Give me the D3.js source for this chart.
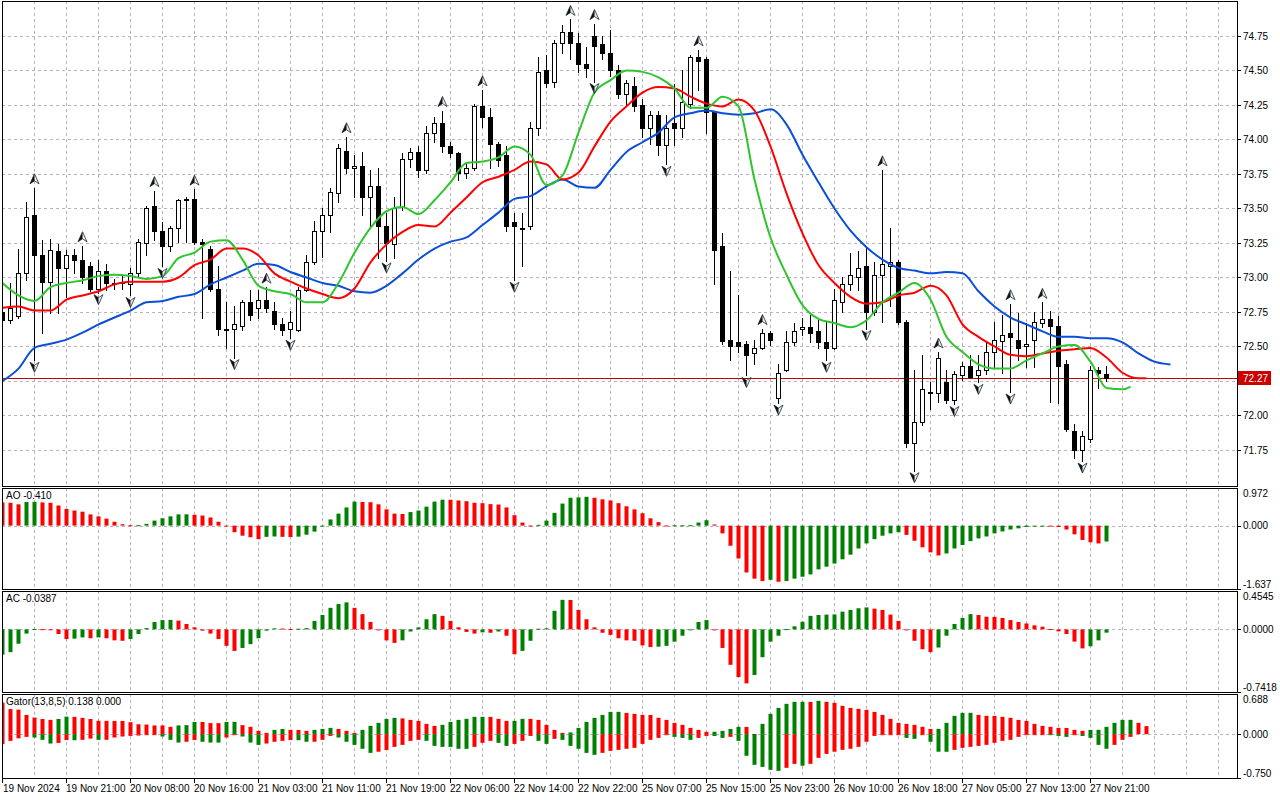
<!DOCTYPE html>
<html>
<head>
<meta charset="utf-8">
<script src="https://cdn.jsdelivr.net/npm/d3@7"></script>
<style>
  body { margin: 0; background: #fff; }
  svg { display: block; }
  text { font-family: "Liberation Sans", Arial, sans-serif; font-size: 10px; fill: #000; }
</style>
</head>
<body>
<svg id="chart"></svg>
<script>
// ------------------------------------------------------------
// H1 candles with Alligator, Fractals, AO, AC and Gator panels
// ------------------------------------------------------------

// Candle data, one value per hourly bar (index 0 = left edge).
const opens = [
  72.75, 72.69, 72.72, 73.03, 73.45, 73.16, 72.97, 73.19, 73.07, 73.16,
  73.13, 73.08, 72.92, 73.05, 72.96, 72.96, 72.95, 73.03, 73.25, 73.52,
  73.34, 73.23, 73.36, 73.56, 73.57, 73.26, 73.21, 72.92, 72.62, 72.63,
  72.65, 72.82, 72.78, 72.84, 72.76, 72.66, 72.63, 72.62, 72.91, 73.11,
  73.34, 73.45, 73.61, 73.92, 73.79, 73.81, 73.58, 73.66, 73.37, 73.24,
  73.51, 73.86, 73.91, 73.78, 74.05, 74.12, 73.95, 73.90, 73.76, 73.79,
  74.24, 74.16, 73.97, 73.89, 73.40, 73.36, 73.37, 74.08, 74.50, 74.42,
  74.70, 74.78, 74.70, 74.55, 74.75, 74.69, 74.63, 74.50, 74.33, 74.39,
  74.25, 74.08, 74.18, 73.96, 74.12, 74.08, 74.26, 74.60, 74.58, 74.20,
  73.23, 72.55, 72.53, 72.52, 72.45, 72.49, 72.60, 72.13, 72.33, 72.53,
  72.63, 72.64, 72.61, 72.53, 72.49, 72.82, 72.95, 73.00, 73.08, 72.75,
  73.02, 73.08, 73.11, 72.68, 71.80, 71.95, 72.16, 72.16, 72.24, 72.11,
  72.29, 72.36, 72.29, 72.33, 72.46, 72.54, 72.60, 72.55, 72.50, 72.55,
  72.67, 72.70, 72.65, 72.37, 71.89, 71.75, 71.83, 72.33, 72.30
];
const highs = [
  72.80, 72.96, 73.21, 73.55, 73.65, 73.27, 73.28, 73.24, 73.20, 73.21,
  73.23, 73.11, 73.13, 73.10, 72.99, 73.01, 73.07, 73.28, 73.52, 73.63,
  73.40, 73.37, 73.57, 73.58, 73.64, 73.28, 73.23, 73.08, 72.82, 72.79,
  72.84, 72.91, 72.91, 72.93, 72.82, 72.71, 72.76, 72.93, 73.16, 73.41,
  73.50, 73.65, 73.97, 74.02, 73.89, 73.91, 73.78, 73.79, 73.47, 73.58,
  73.90, 73.94, 73.95, 74.10, 74.16, 74.21, 73.98, 73.91, 73.83, 74.26,
  74.36, 74.23, 73.98, 73.95, 73.47, 73.47, 74.13, 74.60, 74.61, 74.72,
  74.83, 74.87, 74.77, 74.67, 74.84, 74.75, 74.79, 74.54, 74.43, 74.45,
  74.29, 74.21, 74.21, 74.18, 74.40, 74.50, 74.61, 74.65, 74.60, 74.21,
  73.32, 73.05, 72.87, 72.54, 72.55, 72.63, 72.61, 72.37, 72.61, 72.67,
  72.71, 72.73, 72.69, 72.68, 72.92, 73.00, 73.18, 73.19, 73.22, 73.11,
  73.78, 73.36, 73.13, 72.69, 72.33, 72.44, 72.24, 72.46, 72.33, 72.32,
  72.39, 72.44, 72.44, 72.53, 72.68, 72.73, 72.81, 72.74, 72.67, 72.75,
  72.82, 72.76, 72.72, 72.40, 71.94, 71.89, 72.36, 72.35, 72.36
];
const lows = [
  72.67, 72.67, 72.71, 72.98, 72.40, 72.60, 72.74, 72.74, 72.86, 73.03,
  72.96, 72.90, 72.89, 72.91, 72.92, 72.92, 72.87, 73.01, 73.16, 73.27,
  73.08, 73.19, 73.26, 73.26, 73.24, 72.71, 72.90, 72.58, 72.49, 72.42,
  72.62, 72.69, 72.71, 72.75, 72.63, 72.58, 72.56, 72.61, 72.90, 73.10,
  73.15, 73.33, 73.55, 73.76, 73.58, 73.45, 73.37, 73.14, 73.12, 73.14,
  73.49, 73.80, 73.73, 73.76, 73.98, 73.91, 73.87, 73.71, 73.72, 73.78,
  74.09, 73.79, 73.81, 73.34, 72.98, 73.08, 73.35, 74.03, 74.38, 74.38,
  74.63, 74.58, 74.49, 74.45, 74.42, 74.58, 74.46, 74.30, 74.25, 74.21,
  74.02, 73.97, 73.89, 73.82, 73.96, 74.02, 74.23, 74.36, 74.05, 72.95,
  72.52, 72.40, 72.46, 72.29, 72.37, 72.48, 72.51, 72.09, 72.32, 72.51,
  72.58, 72.53, 72.49, 72.40, 72.48, 72.75, 72.91, 72.91, 72.63, 72.73,
  72.68, 72.79, 72.66, 71.77, 71.60, 71.93, 72.05, 72.10, 72.09, 72.08,
  72.26, 72.27, 72.24, 72.30, 72.35, 72.31, 72.17, 72.40, 72.35, 72.35,
  72.64, 72.10, 72.09, 71.89, 71.69, 71.67, 71.81, 72.20, 72.25
];
const closes = [
  72.69, 72.78, 73.03, 73.44, 73.16, 72.97, 73.20, 73.07, 73.16, 73.13,
  73.00, 72.92, 73.05, 72.96, 72.95, 72.97, 73.03, 73.26, 73.50, 73.34,
  73.23, 73.36, 73.56, 73.57, 73.26, 73.24, 72.92, 72.63, 72.63, 72.66,
  72.82, 72.73, 72.84, 72.78, 72.66, 72.62, 72.68, 72.91, 73.11, 73.34,
  73.45, 73.62, 73.94, 73.79, 73.81, 73.58, 73.66, 73.37, 73.25, 73.50,
  73.86, 73.91, 73.78, 74.05, 74.12, 73.95, 73.90, 73.76, 73.79, 74.24,
  74.16, 73.97, 73.85, 73.37, 73.37, 73.35, 74.08, 74.49, 74.41, 74.70,
  74.78, 74.70, 74.55, 74.52, 74.68, 74.63, 74.50, 74.33, 74.41, 74.24,
  74.08, 74.18, 73.96, 74.08, 74.08, 74.27, 74.60, 74.57, 74.20, 73.20,
  72.54, 72.50, 72.50, 72.44, 72.49, 72.60, 72.55, 72.31, 72.53, 72.61,
  72.64, 72.60, 72.53, 72.49, 72.84, 72.95, 73.02, 73.07, 72.75, 73.02,
  73.10, 73.11, 72.68, 71.80, 71.95, 72.19, 72.17, 72.42, 72.11, 72.30,
  72.36, 72.28, 72.33, 72.46, 72.55, 72.58, 72.57, 72.49, 72.52, 72.68,
  72.70, 72.65, 72.36, 71.90, 71.75, 71.85, 72.33, 72.31, 72.27
];

// Bars that carry a fractal arrow.
const fractalUp = [4, 10, 19, 24, 33, 43, 55, 60, 71, 74, 87, 95, 110, 117, 126, 130];
const fractalDown = [4, 12, 16, 20, 29, 36, 48, 64, 74, 83, 93, 97, 103, 108, 114, 119, 122, 126, 135];

// Alligator lines, read every second bar (they run past the last candle).
const jaw = [
  72.25, 72.34, 72.49, 72.52, 72.55, 72.60, 72.66, 72.71, 72.76, 72.82,
  72.83, 72.86, 72.88, 72.95, 73.00, 73.05, 73.10, 73.09, 73.04, 73.00,
  72.96, 72.94, 72.90, 72.89, 72.94, 73.03, 73.13, 73.21, 73.26, 73.29,
  73.38, 73.47, 73.57, 73.59, 73.66, 73.71, 73.66, 73.65, 73.78, 73.91,
  73.98, 74.05, 74.16, 74.19, 74.21, 74.19, 74.18, 74.19, 74.22, 74.11,
  73.89, 73.69, 73.50, 73.34, 73.22, 73.13, 73.07, 73.05, 73.03, 73.04,
  73.03, 72.90, 72.79, 72.71, 72.66, 72.61, 72.57, 72.57, 72.56, 72.56,
  72.53, 72.45, 72.39, 72.37
];
const teeth = [
  72.78, 72.79, 72.76, 72.76, 72.84, 72.87, 72.90, 72.95, 72.97, 72.97,
  72.97, 73.00, 73.09, 73.13, 73.21, 73.21, 73.16, 73.03, 72.97, 72.92,
  72.88, 72.85, 72.92, 73.11, 73.24, 73.33, 73.38, 73.37, 73.47, 73.58,
  73.69, 73.73, 73.78, 73.84, 73.82, 73.71, 73.76, 73.95, 74.13, 74.24,
  74.34, 74.38, 74.37, 74.31, 74.26, 74.24, 74.29, 74.21, 73.95, 73.61,
  73.32, 73.09, 72.96, 72.86, 72.81, 72.82, 72.87, 72.89, 72.94, 72.87,
  72.66, 72.57, 72.50, 72.44, 72.43, 72.45, 72.47, 72.48, 72.49, 72.42,
  72.31, 72.27, 72.27
];
const lips = [
  72.96, 72.87, 72.83, 72.93, 72.96, 72.98, 73.01, 73.02, 73.01, 72.99,
  73.01, 73.14, 73.18, 73.26, 73.27, 73.13, 72.94, 72.90, 72.88, 72.82,
  72.82, 72.96, 73.18, 73.36, 73.48, 73.51, 73.46, 73.56, 73.69, 73.83,
  73.84, 73.87, 73.95, 73.89, 73.67, 73.74, 74.05, 74.34, 74.43, 74.50,
  74.49, 74.45, 74.37, 74.23, 74.23, 74.31, 74.24, 73.71, 73.29, 73.02,
  72.80, 72.70, 72.67, 72.64, 72.69, 72.82, 72.89, 72.96, 72.84, 72.57,
  72.46, 72.37, 72.34, 72.34, 72.40, 72.45, 72.50, 72.51, 72.39, 72.20,
  72.19, 72.21
];
// Bar index of each line point.
const jawBars = d3.range(0, 147, 2);
const teethBars = d3.range(0, 143, 2).concat([143]);
const lipsBars = d3.range(0, 141, 2).concat([141]);

// Awesome Oscillator, one value per bar.
const ao = [
  0.60, 0.59, 0.55, 0.61, 0.615, 0.60, 0.59, 0.52, 0.43, 0.39,
  0.36, 0.29, 0.24, 0.18, 0.10, 0.035, 0.01, 0.012, 0.045, 0.13,
  0.19, 0.24, 0.29, 0.292, 0.28, 0.26, 0.21, 0.10, -0.005, -0.17,
  -0.26, -0.30, -0.35, -0.29, -0.28, -0.29, -0.295, -0.285, -0.235, -0.155,
  0.0, 0.16, 0.31, 0.47, 0.62, 0.61, 0.605, 0.55, 0.42, 0.31,
  0.30, 0.35, 0.39, 0.49, 0.62, 0.67, 0.668, 0.65, 0.63, 0.59,
  0.58, 0.555, 0.545, 0.47, 0.27, 0.08, 0.003, 0.02, 0.13, 0.33,
  0.57, 0.72, 0.73, 0.745, 0.72, 0.68, 0.65, 0.58, 0.50, 0.42,
  0.32, 0.19, 0.09, 0.005, 0.008, 0.01, 0.012, 0.08, 0.14, 0.03,
  -0.20, -0.52, -0.85, -1.21, -1.37, -1.43, -1.40, -1.45, -1.43, -1.37,
  -1.32, -1.26, -1.13, -1.06, -0.98, -0.87, -0.75, -0.59, -0.46, -0.35,
  -0.26, -0.20, -0.17, -0.24, -0.39, -0.56, -0.69, -0.77, -0.72, -0.59,
  -0.50, -0.40, -0.33, -0.28, -0.20, -0.15, -0.10, -0.07, -0.035, -0.01,
  -0.005, -0.01, -0.035, -0.10, -0.225, -0.37, -0.43, -0.46, -0.41
];

// Accelerator Oscillator, one value per bar.
const ac = [
  -0.30, -0.27, -0.17, -0.05, 0.005, 0.003, 0.001, -0.055, -0.115, -0.11,
  -0.095, -0.105, -0.095, -0.105, -0.13, -0.135, -0.115, -0.055, 0.015, 0.088,
  0.11, 0.112, 0.104, 0.064, 0.024, -0.015, -0.05, -0.115, -0.195, -0.255,
  -0.22, -0.175, -0.105, -0.015, 0.012, 0.010, 0.005, 0.008, 0.015, 0.10,
  0.17, 0.255, 0.30, 0.32, 0.255, 0.18, 0.088, -0.005, -0.13, -0.16,
  -0.13, -0.025, 0.024, 0.12, 0.18, 0.16, 0.10, 0.025, -0.03, -0.05,
  -0.035, -0.04, -0.025, -0.075, -0.295, -0.255, -0.135, 0.008, 0.012, 0.22,
  0.35, 0.348, 0.23, 0.12, 0.024, -0.04, -0.065, -0.105, -0.13, -0.135,
  -0.19, -0.21, -0.205, -0.195, -0.145, -0.075, -0.005, 0.088, 0.11, -0.003,
  -0.22, -0.42, -0.565, -0.64, -0.54, -0.33, -0.145, -0.075, 0.004, 0.036,
  0.09, 0.16, 0.17, 0.175, 0.177, 0.21, 0.23, 0.25, 0.26, 0.245,
  0.23, 0.175, 0.10, -0.004, -0.135, -0.235, -0.27, -0.215, -0.075, 0.064,
  0.135, 0.18, 0.17, 0.15, 0.149, 0.135, 0.11, 0.088, 0.07, 0.048,
  0.032, 0.004, -0.024, -0.055, -0.145, -0.225, -0.20, -0.13, -0.0387
];

// Gator Oscillator: upper and lower histograms (they run past the last candle).
const gatorUp = [
  0.54, 0.43, 0.42, 0.33, 0.285, 0.26, 0.245, 0.26, 0.30, 0.297,
  0.28, 0.26, 0.23, 0.228, 0.227, 0.226, 0.205, 0.17, 0.165, 0.15,
  0.149, 0.126, 0.15, 0.155, 0.21, 0.209, 0.19, 0.189, 0.21, 0.211,
  0.155, 0.126, 0.057, 0.023, 0.074, 0.09, 0.074, 0.073, 0.057, 0.074,
  0.09, 0.108, 0.09, 0.057, 0.023, 0.074, 0.143, 0.194, 0.26, 0.28,
  0.27, 0.245, 0.228, 0.177, 0.143, 0.16, 0.21, 0.245, 0.263, 0.297,
  0.298, 0.296, 0.263, 0.228, 0.229, 0.263, 0.262, 0.245, 0.16, 0.074,
  0.023, 0.03, 0.108, 0.21, 0.28, 0.33, 0.382, 0.383, 0.365, 0.348,
  0.33, 0.329, 0.28, 0.245, 0.194, 0.16, 0.108, 0.074, 0.04, 0.041,
  0.057, 0.09, 0.126, 0.125, 0.003, 0.177, 0.348, 0.45, 0.52, 0.554,
  0.555, 0.553, 0.571, 0.554, 0.537, 0.485, 0.45, 0.434, 0.417, 0.382,
  0.33, 0.263, 0.194, 0.177, 0.16, 0.126, 0.09, 0.091, 0.194, 0.314,
  0.365, 0.366, 0.33, 0.314, 0.313, 0.297, 0.28, 0.245, 0.228, 0.177,
  0.143, 0.126, 0.108, 0.107, 0.074, 0.057, 0.074, 0.075, 0.126, 0.194,
  0.245, 0.246, 0.194, 0.138
];
const gatorDown = [
  -0.17, -0.114, -0.07, -0.046, -0.057, -0.097, -0.16, -0.15, -0.10, -0.103,
  -0.097, -0.075, -0.097, -0.096, -0.057, -0.04, -0.03, -0.023, -0.011, -0.005,
  -0.04, -0.097, -0.143, -0.13, -0.10, -0.13, -0.143, -0.144, -0.057, -0.01,
  -0.04, -0.143, -0.183, -0.16, -0.13, -0.114, -0.10, -0.103, -0.13, -0.129,
  -0.097, -0.03, -0.057, -0.13, -0.183, -0.25, -0.32, -0.30, -0.27, -0.217,
  -0.183, -0.114, -0.097, -0.114, -0.20, -0.217, -0.218, -0.25, -0.251, -0.217,
  -0.148, -0.114, -0.148, -0.20, -0.166, -0.114, -0.03, -0.114, -0.166, -0.08,
  -0.097, -0.20, -0.25, -0.32, -0.354, -0.32, -0.285, -0.268, -0.25, -0.234,
  -0.166, -0.097, -0.063, -0.011, -0.046, -0.063, -0.097, -0.063, -0.03, -0.031,
  -0.063, -0.046, -0.114, -0.37, -0.525, -0.56, -0.61, -0.628, -0.576, -0.508,
  -0.54, -0.508, -0.405, -0.337, -0.30, -0.268, -0.25, -0.217, -0.13, -0.03,
  -0.01, -0.004, -0.003, -0.063, -0.08, -0.005, -0.13, -0.30, -0.301, -0.268,
  -0.234, -0.217, -0.20, -0.183, -0.148, -0.114, -0.097, -0.046, -0.011, -0.004,
  -0.003, -0.017, -0.03, -0.046, -0.005, -0.03, -0.063, -0.183, -0.25, -0.183,
  -0.097, -0.046
];

// Axis labels.
const priceTicks = [74.75, 74.50, 74.25, 74.00, 73.75, 73.50, 73.25, 73.00, 72.75, 72.50, 72.25, 72.00, 71.75];
const timeLabels = [
  "19 Nov 2024", "19 Nov 21:00", "20 Nov 08:00", "20 Nov 16:00", "21 Nov 03:00",
  "21 Nov 11:00", "21 Nov 19:00", "22 Nov 06:00", "22 Nov 14:00", "22 Nov 22:00",
  "25 Nov 07:00", "25 Nov 15:00", "25 Nov 23:00", "26 Nov 10:00", "26 Nov 18:00",
  "27 Nov 05:00", "27 Nov 13:00", "27 Nov 21:00"
];

// ------------------------------------------------------------
// Layout
// ------------------------------------------------------------
const width = 1280, height = 800;
const plotLeft = 2, plotRight = 1237;
const mainPanel = { top: 1, bottom: 486 };
const aoPanel = { top: 488, bottom: 589, min: -1.637, max: 0.972, labels: ["0.972", "0.000", "-1.637"] };
const acPanel = { top: 591, bottom: 692, min: -0.7418, max: 0.4545, labels: ["0.4545", "0.0000", "-0.7418"] };
const gatorPanel = { top: 694, bottom: 778, min: -0.750, max: 0.688, labels: ["0.688", "0.000", "-0.750"] };

const gridColor = "#bcadbf";
const upColor = "#008000", downColor = "#ff0000";

const svg = d3.select("#chart").attr("width", width).attr("height", height);

// One bar every 8 pixels.
const x = d3.scaleLinear().domain([0, 154.375]).range([plotLeft, plotRight]);
const px = i => Math.round(x(i));
const yMain = d3.scaleLinear().domain([71.4891, 75.0036]).range([mainPanel.bottom, mainPanel.top]);

// Clip paths, one per panel.
const defs = svg.append("defs");
function clipFor(name, p) {
  defs.append("clipPath").attr("id", "clip-" + name)
    .append("rect")
    .attr("x", plotLeft).attr("y", p.top)
    .attr("width", plotRight - plotLeft).attr("height", p.bottom - p.top);
  return "url(#clip-" + name + ")";
}

// Vertical dashed grid every 4 bars.
const gridBars = d3.range(4, 155, 4);
function verticalGrid(g, p) {
  g.selectAll(".vgrid").data(gridBars).enter().append("line")
    .attr("x1", d => px(d) + 0.5).attr("x2", d => px(d) + 0.5)
    .attr("y1", p.top).attr("y2", p.bottom)
    .attr("stroke", gridColor).attr("stroke-dasharray", "3,3");
}

// ------------------------------------------------------------
// Main panel
// ------------------------------------------------------------
const main = svg.append("g").attr("clip-path", clipFor("main", mainPanel));
verticalGrid(main, mainPanel);

main.selectAll(".hgrid").data(priceTicks).enter().append("line")
  .attr("x1", plotLeft).attr("x2", plotRight)
  .attr("y1", d => Math.round(yMain(d)) + 0.5).attr("y2", d => Math.round(yMain(d)) + 0.5)
  .attr("stroke", gridColor).attr("stroke-dasharray", "3,3");

// Last price line.
const lastClose = closes[closes.length - 1];
const lastY = Math.round(yMain(lastClose)) + 0.5;
main.append("line")
  .attr("x1", plotLeft).attr("x2", plotRight).attr("y1", lastY).attr("y2", lastY)
  .attr("stroke", "#c00000").attr("stroke-width", 1);

// Candles.
const candles = opens.map((o, i) => ({ i, o, h: highs[i], l: lows[i], c: closes[i] }));
const candleG = main.selectAll(".candle").data(candles).enter().append("g");

candleG.append("line")
  .attr("x1", d => px(d.i) + 0.5).attr("x2", d => px(d.i) + 0.5)
  .attr("y1", d => Math.round(yMain(d.h))).attr("y2", d => Math.round(yMain(d.l)) + 1)
  .attr("stroke", "#000");

candleG.each(function(d) {
  const g = d3.select(this);
  const cx = px(d.i);
  const top = Math.round(yMain(Math.max(d.o, d.c)));
  const bot = Math.round(yMain(Math.min(d.o, d.c)));
  if (bot - top < 1) {
    g.append("line").attr("x1", cx - 2).attr("x2", cx + 3)
      .attr("y1", top + 0.5).attr("y2", top + 0.5).attr("stroke", "#000");
  } else if (d.c < d.o) {
    g.append("rect").attr("x", cx - 2).attr("y", top)
      .attr("width", 5).attr("height", bot - top + 1).attr("fill", "#000");
  } else {
    g.append("rect").attr("x", cx - 1.5).attr("y", top + 0.5)
      .attr("width", 4).attr("height", bot - top)
      .attr("fill", "#fff").attr("stroke", "#000");
  }
});

// Alligator lines.
function drawLine(bars, values, color) {
  const line = d3.line()
    .x((d, k) => x(bars[k]) + 0.5)
    .y(d => yMain(d))
    .curve(d3.curveMonotoneX);
  main.append("path").datum(values)
    .attr("d", line).attr("fill", "none")
    .attr("stroke", color).attr("stroke-width", 2);
}
drawLine(jawBars, jaw, "#0a4fd8");
drawLine(teethBars, teeth, "#ff0000");
drawLine(lipsBars, lips, "#2ec52e");

// Fractal arrows.
function arrow(cx, cy, up) {
  const s = up ? 1 : -1;
  const g = main.append("g").attr("transform", `translate(${cx},${cy})`);
  g.append("path")
    .attr("d", `M0,${-5 * s} L4.5,${5 * s} L0,${2 * s} L-4.5,${5 * s} Z`)
    .attr("fill", "#e8f0f4").attr("stroke", "#1a2a3a").attr("stroke-width", 0.8);
  g.append("path")
    .attr("d", `M0,${-5 * s} L0,${2 * s} L-4.5,${5 * s} Z`)
    .attr("fill", "#111");
}
fractalUp.forEach(i => arrow(px(i) + 0.5, yMain(highs[i]) - 9, true));
fractalDown.forEach(i => arrow(px(i) + 0.5, yMain(lows[i]) + 7, false));

// ------------------------------------------------------------
// Histogram panels
// ------------------------------------------------------------
function colorsFrom(values, firstColor, useAbs) {
  return values.map((v, i) => {
    if (i === 0) return firstColor;
    const a = useAbs ? Math.abs(v) : v;
    const b = useAbs ? Math.abs(values[i - 1]) : values[i - 1];
    return a > b ? upColor : downColor;
  });
}

function histogramPanel(name, p, series, title) {
  const y = d3.scaleLinear().domain([p.min, p.max]).range([p.bottom, p.top]);
  const g = svg.append("g").attr("clip-path", clipFor(name, p));
  verticalGrid(g, p);
  const zeroY = Math.round(y(0)) + 0.5;
  g.append("line").attr("x1", plotLeft).attr("x2", plotRight)
    .attr("y1", zeroY).attr("y2", zeroY)
    .attr("stroke", gridColor).attr("stroke-dasharray", "3,3");

  series.forEach(s => {
    const cols = colorsFrom(s.values, s.first, s.abs);
    g.selectAll(null).data(s.values).enter().append("rect")
      .attr("x", (d, i) => px(i) - 1.5)
      .attr("width", 4)
      .attr("y", d => Math.min(y(d), y(0)))
      .attr("height", d => Math.max(1, Math.abs(y(d) - y(0))))
      .attr("fill", (d, i) => cols[i]);
  });

  svg.append("text").attr("x", 6).attr("y", p.top + 11).text(title);

  // Right axis labels for this panel.
  const ax = svg.append("g");
  [[p.top + 5, p.labels[0]], [y(0), p.labels[1]], [p.bottom - 5, p.labels[2]]].forEach(([ty, label]) => {
    ax.append("text").attr("x", 1243).attr("y", ty + 3.5).text(label);
  });
  ax.append("line").attr("x1", plotRight).attr("x2", plotRight + 4)
    .attr("y1", zeroY).attr("y2", zeroY).attr("stroke", "#000");
  ax.append("line").attr("x1", plotRight).attr("x2", plotRight + 4)
    .attr("y1", p.bottom + 0.5).attr("y2", p.bottom + 0.5).attr("stroke", "#000");
}

histogramPanel("ao", aoPanel, [{ values: ao, first: downColor, abs: false }], "AO -0.410");
histogramPanel("ac", acPanel, [{ values: ac, first: upColor, abs: false }], "AC -0.0387");
histogramPanel("gator", gatorPanel, [
  { values: gatorUp, first: downColor, abs: true },
  { values: gatorDown, first: downColor, abs: true }
], "Gator(13,8,5) 0.138 0.000");

// ------------------------------------------------------------
// Frames and axes
// ------------------------------------------------------------
[mainPanel, aoPanel, acPanel, gatorPanel].forEach(p => {
  svg.append("rect")
    .attr("x", plotLeft + 0.5).attr("y", p.top + 0.5)
    .attr("width", plotRight - plotLeft).attr("height", p.bottom - p.top)
    .attr("fill", "none").attr("stroke", "#000");
});

// Price axis. A label hidden by the last-price tag is not written.
const priceAxis = svg.append("g");
priceTicks.forEach(t => {
  const ty = Math.round(yMain(t)) + 0.5;
  priceAxis.append("line").attr("x1", plotRight).attr("x2", plotRight + 4)
    .attr("y1", ty).attr("y2", ty).attr("stroke", "#000");
  if (Math.abs(ty - lastY) > 12) {
    priceAxis.append("text").attr("x", 1243).attr("y", ty + 3.5).text(t.toFixed(2));
  }
});

// Last price tag.
priceAxis.append("rect")
  .attr("x", plotRight + 1).attr("y", lastY - 7.5)
  .attr("width", 33).attr("height", 14).attr("fill", "#cc0000");
priceAxis.append("text").attr("x", 1243).attr("y", lastY + 3.5)
  .style("fill", "#fff").text(lastClose.toFixed(2));

// Time axis: one label every 8 bars.
const timeAxis = svg.append("g");
timeLabels.forEach((label, k) => {
  const tx = px(k * 8);
  timeAxis.append("line").attr("x1", tx + 0.5).attr("x2", tx + 0.5)
    .attr("y1", gatorPanel.bottom).attr("y2", gatorPanel.bottom + 5).attr("stroke", "#000");
  timeAxis.append("text").attr("x", k === 0 ? tx + 1 : tx).attr("y", 792).text(label);
});
</script>
</body>
</html>
